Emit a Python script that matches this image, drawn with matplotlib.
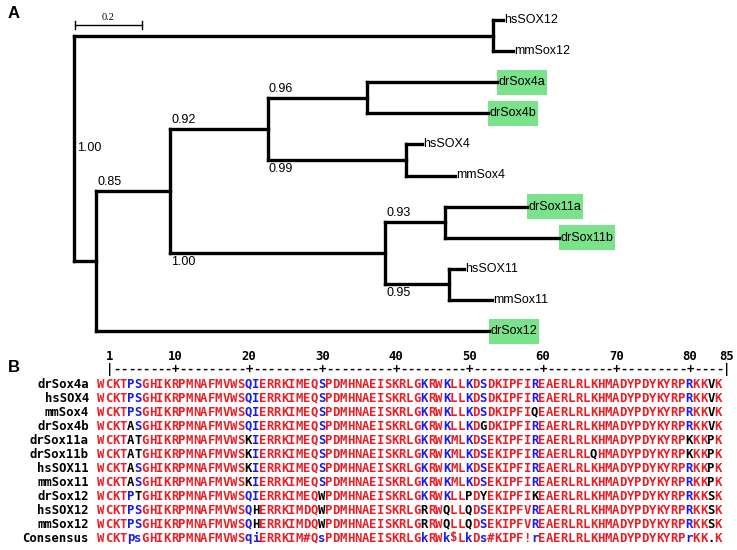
import matplotlib
matplotlib.use("Agg")
import matplotlib.pyplot as plt
from matplotlib.patches import Rectangle

# ---------------- Panel A: tree data ----------------
node_children = {
    "root": ["n12", "nA"],
    "n12": ["hsSOX12", "mmSox12"],
    "nA": ["n085", "drSox12"],
    "n085": ["n092", "n100"],
    "n092": ["n096", "n099"],
    "n096": ["drSox4a", "drSox4b"],
    "n099": ["hsSOX4", "mmSox4"],
    "n100": ["n093", "n095"],
    "n093": ["drSox11a", "drSox11b"],
    "n095": ["hsSOX11", "mmSox11"],
}
branch_length = {
    "n12": 1.251, "hsSOX12": 0.030, "mmSox12": 0.059,
    "nA": 0.066, "drSox12": 1.173,
    "n085": 0.221, "n092": 0.292, "n100": 0.642,
    "n096": 0.296, "n099": 0.412,
    "drSox4a": 0.388, "drSox4b": 0.361,
    "hsSOX4": 0.048, "mmSox4": 0.146,
    "n093": 0.179, "n095": 0.191,
    "drSox11a": 0.245, "drSox11b": 0.340,
    "hsSOX11": 0.045, "mmSox11": 0.128,
}
support = {"root": "1.00", "n085": "0.85", "n092": "0.92", "n100": "1.00",
           "n096": "0.96", "n099": "0.99", "n093": "0.93", "n095": "0.95"}
highlighted = ["drSox4a", "drSox4b", "drSox11a", "drSox11b", "drSox12"]
scale_bar_value = 0.2

# ---------------- Panel B: alignment data ----------------
seq_names = ["drSox4a", "hsSOX4", "mmSox4", "drSox4b", "drSox11a", "drSox11b",
             "hsSOX11", "mmSox11", "drSox12", "hsSOX12", "mmSox12"]
sequences = [
    "WCKTPSGHIKRPMNAFMVWSQIERRKIMEQSPDMHNAEISKRLGKRWKLLKDSDKIPFIREAERLRLKHMADYPDYKYRPRKKVK",
    "WCKTPSGHIKRPMNAFMVWSQIERRKIMEQSPDMHNAEISKRLGKRWKLLKDSDKIPFIREAERLRLKHMADYPDYKYRPRKKVK",
    "WCKTPSGHIKRPMNAFMVWSQIERRKIMEQSPDMHNAEISKRLGKRWKLLKDSDKIPFIQEAERLRLKHMADYPDYKYRPRKKVK",
    "WCKTASGHIKRPMNAFMVWSQIERRKIMEQSPDMHNAEISKRLGKRWKLLKDGDKIPFIREAERLRLKHMADYPDYKYRPRKKVK",
    "WCKTATGHIKRPMNAFMVWSKIERRKIMEQSPDMHNAEISKRLGKRWKMLKDSEKIPFIREAERLRLKHMADYPDYKYRPKKKPK",
    "WCKTATGHIKRPMNAFMVWSKIERRKIMEQSPDMHNAEISKRLGKRWKMLKDSEKIPFIREAERLRLQHMADYPDYKYRPKKKPK",
    "WCKTASGHIKRPMNAFMVWSKIERRKIMEQSPDMHNAEISKRLGKRWKMLKDSEKIPFIREAERLRLKHMADYPDYKYRPRKKPK",
    "WCKTASGHIKRPMNAFMVWSKIERRKIMEQSPDMHNAEISKRLGKRWKMLKDSEKIPFIREAERLRLKHMADYPDYKYRPRKKPK",
    "WCKTPTGHIKRPMNAFMVWSQIERRKIMEQWPDMHNAEISKRLGKRWKLLPDYEKIPFIKEAERLRLKHMADYPDYKYRPRKKSK",
    "WCKTPSGHIKRPMNAFMVWSQHERRKIMDQWPDMHNAEISKRLGRRWQLLQDSEKIPFVREAERLRLKHMADYPDYKYRPRKKSK",
    "WCKTPSGHIKRPMNAFMVWSQHERRKIMDQWPDMHNAEISKRLGRRWQLLQDSEKIPFVREAERLRLKHMADYPDYKYRPRKKSK",
]
consensus = "WCKTpsGHIKRPMNAFMVWSqiERRKIM#QsPDMHNAEISKRLGkRWk$LkDs#KIPF!rEAERLRLKHMADYPDYKYRPrKK.K"
ruler_numbers = [1, 10, 20, 30, 40, 50, 60, 70, 80, 85]

RED, BLUE, BLACK = "#ee1c24", "#1a1aee", "#000000"
GREEN = "#7ae28a"
symbol_classes = {"!": "IV", "$": "LM", "%": "FY", "#": "NDQEBZ"}

fig = plt.figure(figsize=(7.37, 5.5), dpi=100)

# ======== Panel A ========
axA = fig.add_axes([0, 0, 1, 1])
axA.set_axis_off()
axA.set_xlim(-74 / 335, (737 - 74) / 335)
axA.set_ylim((550 - 20) / 31.1, -20 / 31.1)

pos_x, pos_y = {}, {}
leaf_order = []


def collect(node):
    if node in node_children:
        for c in node_children[node]:
            collect(c)
    else:
        leaf_order.append(node)


collect("root")
for i, n in enumerate(leaf_order):
    pos_y[n] = i


def set_y(node):
    if node in node_children:
        ys = [set_y(c) for c in node_children[node]]
        pos_y[node] = (min(ys) + max(ys)) / 2
    return pos_y[node]


def place(node, x):
    pos_x[node] = x
    if node in node_children:
        for c in node_children[node]:
            place(c, x + branch_length[c])


set_y("root")
place("root", 0.0)

LW = 2.4
tree_font = dict(family=["Liberation Sans", "DejaVu Sans"], fontsize=9)
for node, kids in node_children.items():
    x = pos_x[node]
    ys = [pos_y[c] for c in kids]
    axA.plot([x, x], [min(ys), max(ys)], color="black", lw=LW,
             solid_capstyle="projecting")
    for k, c in enumerate(kids):
        axA.plot([x, pos_x[c]], [pos_y[c], pos_y[c]], color="black", lw=LW,
                 solid_capstyle="projecting")
        if c in support:
            if k == 0:
                axA.text(x + 0.003, pos_y[c] - 0.1, support[c], ha="left",
                         va="bottom", **tree_font)
            else:
                axA.text(x + 0.003, pos_y[c] + 0.1, support[c], ha="left",
                         va="top", **tree_font)
axA.text(pos_x["root"] + 0.010, pos_y["root"], support["root"], ha="left",
         va="center", **tree_font)

fig.canvas.draw()
renderer = fig.canvas.get_renderer()
inv = axA.transData.inverted()
for leaf in leaf_order:
    t = axA.text(pos_x[leaf] + 0.004, pos_y[leaf], leaf, ha="left",
                 va="center", zorder=3, **tree_font)
    if leaf in highlighted:
        bb = t.get_window_extent(renderer)
        x1 = inv.transform((bb.x1 + 2, 0))[0]
        h = 12.5 / 31.1
        axA.add_patch(Rectangle((pos_x[leaf], pos_y[leaf] - h),
                                x1 - pos_x[leaf], 2 * h,
                                facecolor=GREEN, edgecolor="none", zorder=1))

# scale bar
sb_y = 0.16
axA.plot([0.003, 0.003 + scale_bar_value], [sb_y, sb_y], color="black", lw=1)
for xx in (0.003, 0.003 + scale_bar_value):
    axA.plot([xx, xx], [sb_y - 0.12, sb_y + 0.12], color="black", lw=1)
axA.text(0.003 + scale_bar_value / 2, sb_y - 0.08, f"{scale_bar_value}",
         ha="center", va="bottom", family=["Liberation Serif", "DejaVu Serif"],
         fontsize=7.5)

fig.text(8 / 737, 1 - 14 / 550, "A", ha="left", va="center",
         family=["Liberation Sans", "DejaVu Sans"], fontweight="bold",
         fontsize=12)

# ======== Panel B ========
axB = fig.add_axes([0, 0, 1, 1])
axB.set_axis_off()
axB.patch.set_alpha(0)
CW = 7.35
axB.set_xlim(1 - 101 / CW, 1 + (737 - 101) / CW)
RH = 14.0
axB.set_ylim((550 - 384) / RH, -384 / RH)

mono = dict(family=["DejaVu Sans Mono"], fontweight="bold", fontsize=8.8)


def residue_color(res, c):
    if c == ".":
        return BLACK
    if c in symbol_classes:
        return RED if res in symbol_classes[c] else BLACK
    if c.isupper():
        return RED if res == c else BLACK
    return BLUE if res == c.upper() else BLACK


for r, (name, seq) in enumerate(zip(seq_names, sequences)):
    axB.text(1 + (89 - 101) / CW, r, name, ha="right", va="center", **mono)
    for j, res in enumerate(seq):
        axB.text(j + 1, r, res, ha="center", va="center",
                 color=residue_color(res, consensus[j]), **mono)

rc = len(seq_names)
axB.text(1 + (89 - 101) / CW, rc, "Consensus", ha="right", va="center", **mono)
for j, c in enumerate(consensus):
    if c == ".":
        col = BLACK
    elif c in symbol_classes or c.isupper():
        col = RED
    else:
        col = BLUE
    axB.text(j + 1, rc, c, ha="center", va="center", color=col, **mono)

# ruler
off = 1.15
ruler_y = (369 - 384) / RH
num_y = (357 - 384) / RH
L = len(consensus)
for p in range(1, L + 1):
    if p == 1 or p == L:
        ch = "|"
    elif p % 10 == 0:
        ch = "+"
    else:
        ch = "-"
    axB.text(p + off, ruler_y, ch, ha="center", va="center", **mono)
for n in ruler_numbers:
    axB.text(n + off, num_y, str(n), ha="center", va="center", **mono)

fig.text(8 / 737, 1 - 367 / 550, "B", ha="left", va="center",
         family=["Liberation Sans", "DejaVu Sans"], fontweight="bold",
         fontsize=12)

fig.savefig("out.png", dpi=100)
